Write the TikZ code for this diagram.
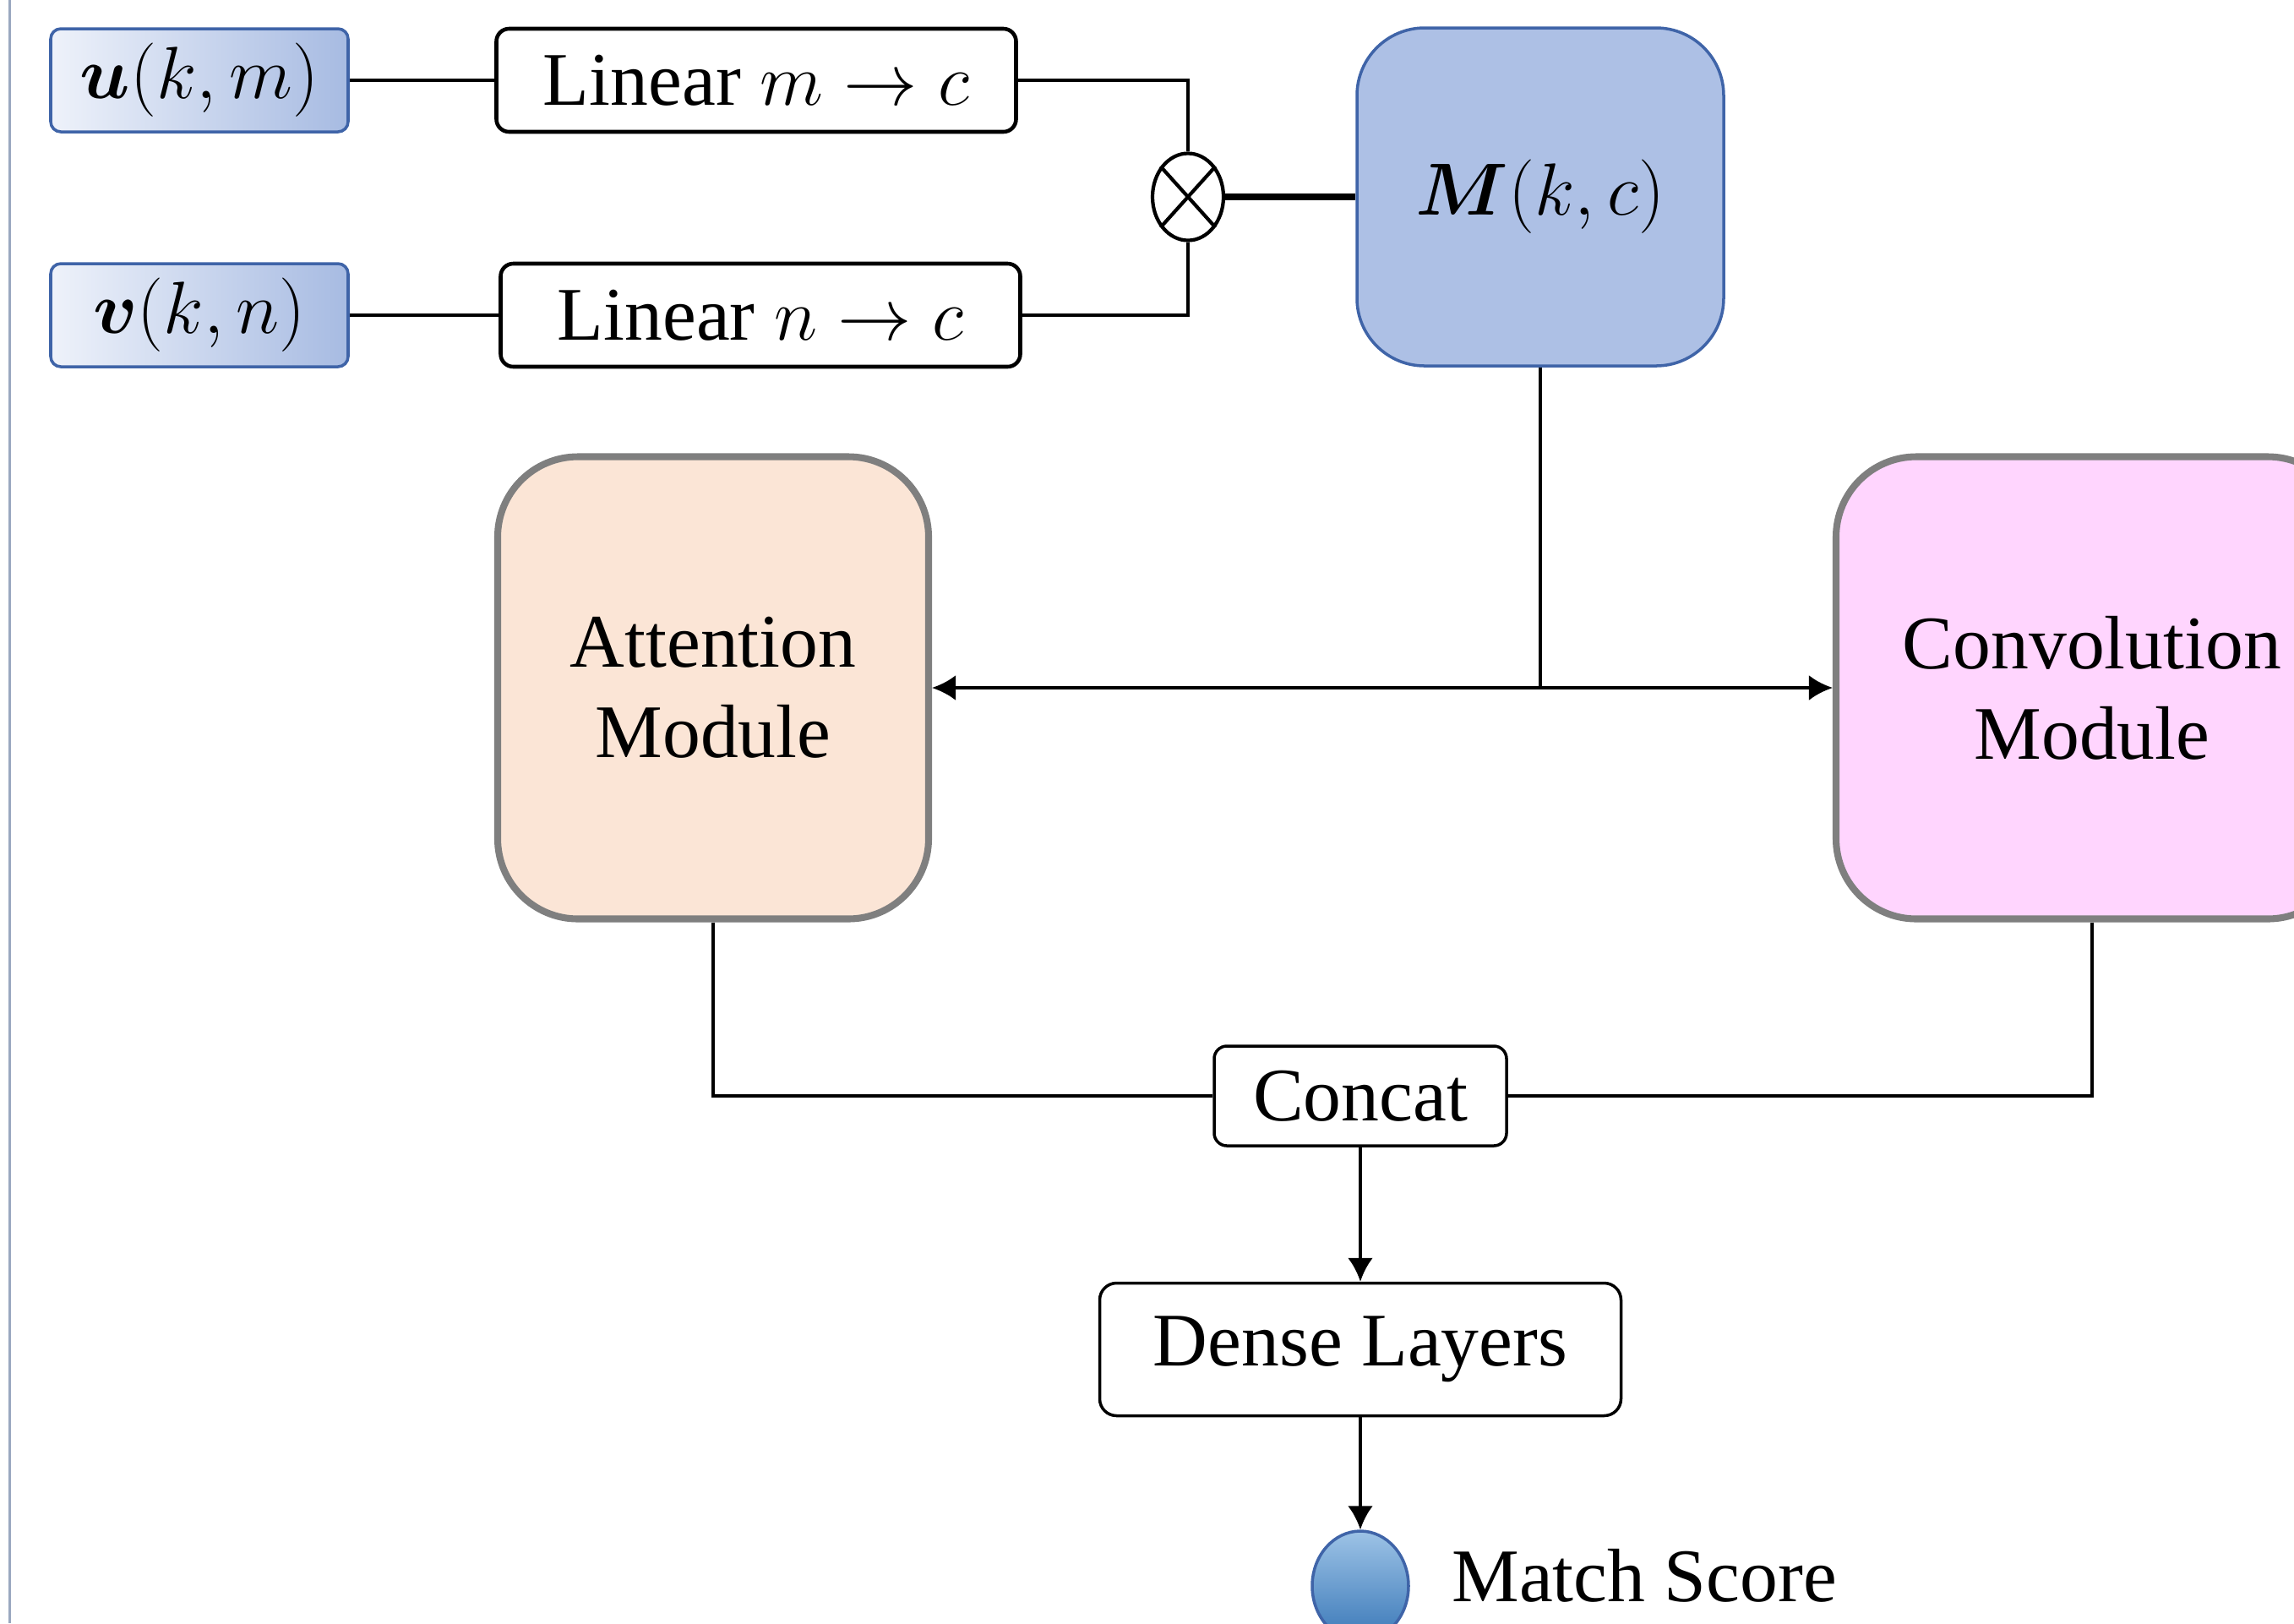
\documentclass[tikz,border=0pt]{standalone}
\usepackage{fontspec}
\setmainfont{Liberation Serif}
\usepackage{bm}
\usetikzlibrary{positioning,shapes.geometric,arrows.meta}

\definecolor{azulpalido}{HTML}{EEF2FA}
\definecolor{azulmedio}{HTML}{A7BBE2}
\definecolor{azulM}{HTML}{ADC0E5}
\definecolor{bordeazul}{HTML}{3F64A8}
\definecolor{gris}{HTML}{7F7F7F}
\definecolor{durazno}{HTML}{FBE5D6}
\definecolor{rosa}{HTML}{FFD5FE}
\definecolor{azulsup}{HTML}{9DC3E6}
\definecolor{azulinf}{HTML}{3A78B8}
\definecolor{bordeizq}{HTML}{9AA8C0}

\begin{document}
\begin{tikzpicture}[
		font=\fontsize{25.5}{30.5}\selectfont,
		entrada/.style={draw=bordeazul, line width=1pt, rounded corners=0.12cm, left color=azulpalido, right color=azulmedio, minimum width=3.52cm, minimum height=1.22cm, inner sep=0},
		lineal/.style={draw, line width=1.3pt, rounded corners=0.15cm, fill=white, minimum width=6.15cm, minimum height=1.22cm, inner sep=0},
		modulo/.style={draw=gris, line width=2.3pt, rounded corners=0.95cm, minimum height=5.47cm, align=center},
		caja/.style={draw, line width=1pt, rounded corners=0.15cm, fill=white, inner sep=0},
		linea/.style={line width=1.2pt},
		flecha/.style={-{Latex[length=0.28cm,width=0.3cm]}, line width=1.2pt}
	]
	\useasboundingbox (0,0) rectangle (27.15,-19.21);
	\draw[bordeizq, line width=0.6pt] (0.115,0) -- (0.115,-19.21);
	
	% Entradas
	\node[entrada] (u) at (2.36,-0.95) {$\bm{u}(k,m)$};
	\node[entrada] (v) at (2.36,-3.73) {$\bm{v}(k,n)$};
	\node[lineal] (linm) at (8.95,-0.95) {Linear $m\rightarrow c$};
	\node[lineal] (linn) at (9.00,-3.73) {Linear $n\rightarrow c$};
	\draw[linea] (u) -- (linm);
	\draw[linea] (v) -- (linn);
	
	% Producto
	\node[ellipse, draw, line width=1.2pt, fill=white, minimum width=0.84cm, minimum height=1.03cm, inner sep=0] (prod) at (14.06,-2.33) {};
	\draw[linea] (prod.48) -- (prod.228);
	\draw[linea] (prod.132) -- (prod.312);
	\draw[linea] (linm.east) -| (prod.north);
	\draw[linea] (linn.east) -| (prod.south);
	\node[draw=bordeazul, line width=1pt, fill=azulM, rounded corners=0.8cm, minimum width=4.34cm, minimum height=4cm] (M) at (18.23,-2.33) {$\bm{M}(k,c)$};
	\draw[line width=2.3pt] (prod.east) -- (M.west);
	
	% Modulos
	\node[modulo, fill=durazno, minimum width=5.1cm] (att) at (8.44,-8.14) {Attention\\Module};
	\node[modulo, fill=rosa, minimum width=6.06cm] (conv) at (24.76,-8.14) {Convolution\\Module};
	\coordinate (div) at (M.south |- att.east);
	\draw[linea] (M.south) -- (div);
	\draw[flecha] (div) -- (att.east);
	\draw[flecha] (div) -- (conv.west);
	
	% Salida
	\node[caja, minimum width=3.46cm, minimum height=1.18cm] (concat) at (16.10,-12.97) {Concat};
	\node[caja, rounded corners=0.2cm, minimum width=6.17cm, minimum height=1.57cm] (dense) at (16.10,-15.97) {Dense Layers};
	\node[ellipse, draw=bordeazul, line width=1pt, top color=azulsup, bottom color=azulinf, minimum width=1.14cm, minimum height=1.3cm, inner sep=0] (score) at (16.10,-18.77) {};
	\node[right=0.49cm of score, inner sep=0, yshift=0.12cm] (scoretxt) {Match Score};
	\draw[linea] (att.south) |- (concat.west);
	\draw[linea] (conv.south) |- (concat.east);
	\draw[flecha] (concat) -- (dense);
	\draw[flecha] (dense) -- (score);
\end{tikzpicture}
\end{document}
